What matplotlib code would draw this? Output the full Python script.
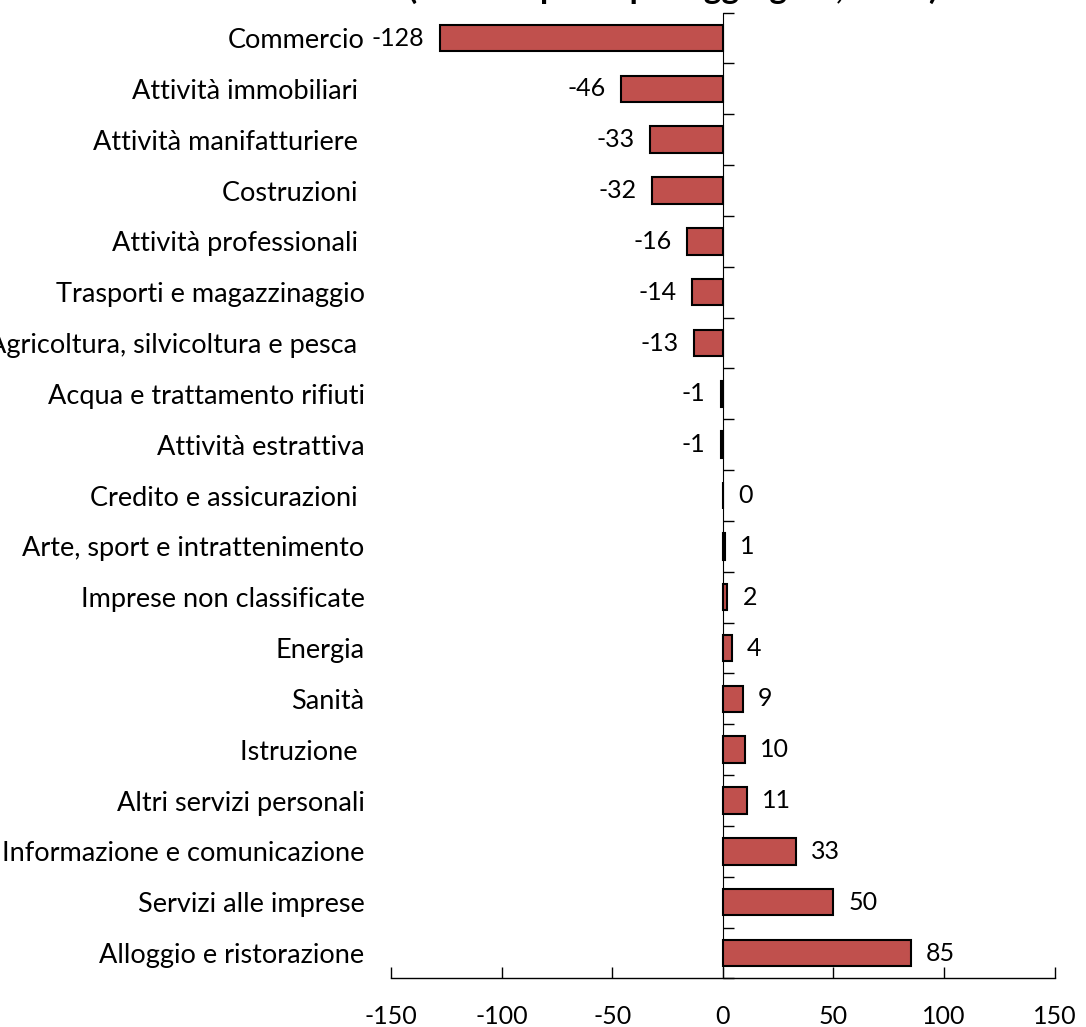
import numpy as np
import matplotlib
matplotlib.use("Agg")
import matplotlib.pyplot as plt

plt.rcParams['font.family'] = ['Lato', 'DejaVu Sans']

# saldo per settore, dall'alto verso il basso
settori = [
    "Commercio",
    "Attività immobiliari ",
    "Attività manifatturiere ",
    "Costruzioni ",
    "Attività professionali ",
    "Trasporti e magazzinaggio",
    "Agricoltura, silvicoltura e pesca ",
    "Acqua e trattamento rifiuti",
    "Attività estrattiva",
    "Credito e assicurazioni ",
    "Arte, sport e intrattenimento",
    "Imprese non classificate",
    "Energia",
    "Sanità",
    "Istruzione ",
    "Altri servizi personali",
    "Informazione e comunicazione",
    "Servizi alle imprese",
    "Alloggio e ristorazione",
]
saldo = [-128, -46, -33, -32, -16, -14, -13, -1, -1, 0, 1, 2, 4, 9, 10, 11, 33, 50, 85]

xticks = [-150, -100, -50, 0, 50, 100, 150]

fig = plt.figure(figsize=(10.86, 10.27), dpi=100)
ax = fig.add_axes([0.360, 0.0473, 0.611, 0.9404])

pos = np.arange(len(settori))
ax.barh(pos, saldo, height=0.52, color='#C0504D', edgecolor='black', linewidth=1.5)

ax.set_xlim(-150, 150)
ax.set_ylim(len(settori) - 0.5, -0.5)

ax.set_xticks(xticks)
ax.set_xticklabels([str(v) for v in xticks])
ax.tick_params(axis='x', direction='in', length=8, width=1, labelsize=18, pad=19)

ax.set_yticks(pos)
ax.set_yticklabels(settori)
ax.tick_params(axis='y', length=0, labelsize=19.5, pad=19)

for s in ['top', 'right', 'left']:
    ax.spines[s].set_visible(False)
ax.spines['bottom'].set_linewidth(1)

# asse verticale sullo zero con tacche tra le categorie
asse0 = ax.secondary_yaxis(0.5)
asse0.set_yticks(np.arange(len(settori) + 1) - 0.5)
asse0.set_yticklabels([])
asse0.tick_params(direction='out', length=8, width=1)
asse0.spines['left'].set_linewidth(1)

for y, v in zip(pos, saldo):
    if v < 0:
        ax.annotate(str(v), (v, y), xytext=(-11, 0), textcoords='offset points',
                    ha='right', va='center', fontsize=18)
    else:
        ax.annotate(str(v), (v, y), xytext=(11, 0), textcoords='offset points',
                    ha='left', va='center', fontsize=18)

# titolo in alto, tagliato dal bordo superiore
fig.text(0.62, 1.0 + 1 / 1027, "(saldo imprese per aggregato, 2023)", ha='center',
         va='baseline', fontsize=24, fontweight='bold')

fig.savefig("out.png", dpi=100)
